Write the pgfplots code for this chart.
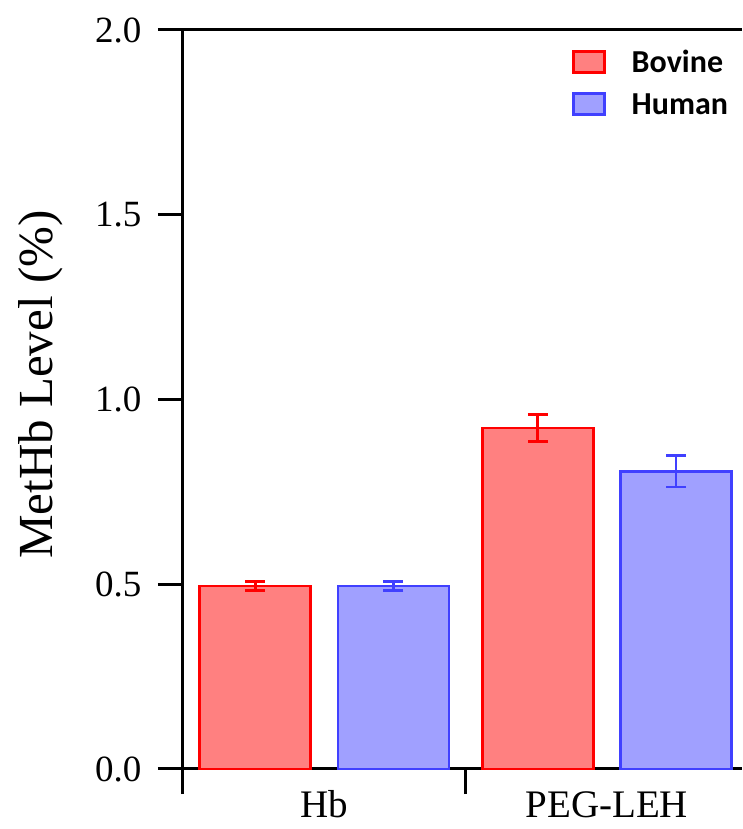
\documentclass[border=0pt]{standalone}
\usepackage{pgfplots}
\pgfplotsset{compat=1.18}
\usepackage{fontspec}
\setmainfont{Liberation Serif}
\newfontfamily\legendfont{Carlito}

\definecolor{bovEdge}{RGB}{255,0,0}
\definecolor{bovFill}{RGB}{255,128,128}
\definecolor{humEdge}{RGB}{64,64,255}
\definecolor{humFill}{RGB}{160,160,255}

\begin{document}
\begin{tikzpicture}
\begin{axis}[
  at={(0,0)}, anchor=south west,
  scale only axis, width=559pt, height=739pt,
  xmin=-0.5, xmax=1.478, ymin=0, ymax=2,
  clip=false,
  axis x line=bottom, axis y line=left,
  axis line style={-, line width=3pt, black},
  ytick={0,0.5,1,1.5,2},
  yticklabels={0.0,0.5,1.0,1.5,2.0},
  yticklabel style={xshift=-13pt},
  xtick={-0.5,0.5}, xticklabels={},
  extra x ticks={0,1},
  extra x tick labels={Hb,PEG-LEH},
  extra x tick style={major tick length=0pt,
    xticklabel style={anchor=base, yshift=-48pt,
      font=\fontsize{39}{39}\selectfont}},
  tick align=outside,
  major tick length=25pt,
  tick style={line width=3pt, black},
  ticklabel style={font=\fontsize{37}{37}\selectfont},
  /pgf/number format/assume math mode=true,
  ylabel={MetHb Level (\%)},
  ylabel style={at={(axis description cs:-0.215,0.52)}, anchor=south,
    inner sep=0pt, font=\fontsize{49}{49}\selectfont},
  legend style={at={(rel axis cs:0.69,0.978)}, anchor=north west,
    draw=none, fill=none, row sep=15pt,
    /tikz/every odd column/.append style={column sep=24pt},
    font=\legendfont\bfseries\fontsize{32}{32}\selectfont},
  legend cell align=left,
]
% bars sit at group centre -/+ 0.2445
\addplot[ybar, bar width=111pt, bar shift=0pt,
  draw=bovEdge, fill=bovFill, line width=2.8pt,
  legend image code/.code={\draw[bovEdge, fill=bovFill, line width=2.8pt] (0pt,-10pt) rectangle (31pt,11pt);},
  error bars/.cd, y dir=both, y explicit,
  error bar style={line width=2.8pt, bovEdge},
  error mark options={rotate=90, mark size=10pt, line width=2.8pt, bovEdge}]
  coordinates {(-0.2445,0.495) +- (0,0.012) (0.7555,0.923) +- (0,0.037)};
\addlegendentry{Bovine}
\addplot[ybar, bar width=111pt, bar shift=0pt,
  draw=humEdge, fill=humFill, line width=2.8pt,
  legend image code/.code={\draw[humEdge, fill=humFill, line width=2.8pt] (0pt,-10pt) rectangle (31pt,11pt);},
  error bars/.cd, y dir=both, y explicit,
  error bar style={line width=2.8pt, humEdge},
  error mark options={rotate=90, mark size=10pt, line width=2.8pt, humEdge}]
  coordinates {(0.2445,0.495) +- (0,0.012) (1.2445,0.806) +- (0,0.043)};
\addlegendentry{Human}
% top frame line
\draw[line width=3pt, black] (rel axis cs:0,1) -- (rel axis cs:1,1);
\end{axis}
\pgfresetboundingbox
\useasboundingbox (-183pt,-60pt) rectangle (559pt,769pt);
\end{tikzpicture}
\end{document}
